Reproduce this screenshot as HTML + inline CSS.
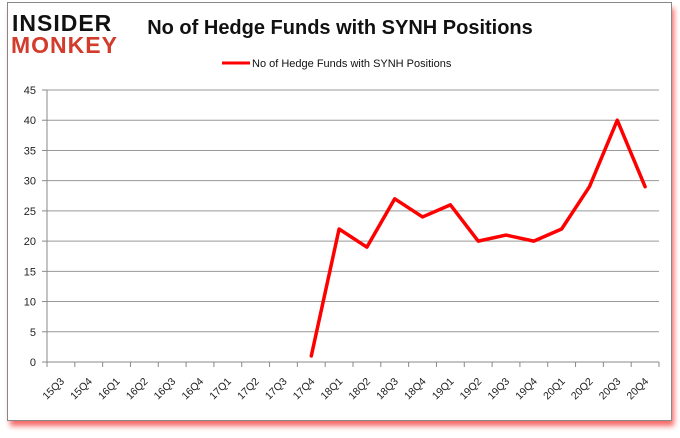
<!DOCTYPE html>
<html><head><meta charset="utf-8"><style>
body{margin:0;background:#fff;width:680px;height:433px;overflow:hidden;font-family:"Liberation Sans",sans-serif}
</style></head><body>
<svg width="680" height="433" xmlns="http://www.w3.org/2000/svg">
<defs><filter id="sh" x="-5%" y="-5%" width="110%" height="115%"><feGaussianBlur stdDeviation="3"/></filter></defs>
<rect x="10" y="8" width="664" height="418" fill="#e00" opacity="0.6" filter="url(#sh)"/>
<rect x="7.5" y="2.5" width="664" height="418" fill="#fff" stroke="#888"/>
<g font-family="'Liberation Sans',sans-serif" font-weight="bold">
<text x="12" y="31" font-size="23" fill="#111" letter-spacing="1">INSIDER</text>
<text x="11" y="53" font-size="23" fill="#d33b2c" letter-spacing="1">MONKEY</text>
</g>
<text x="340" y="34" text-anchor="middle" font-size="20" font-weight="bold" fill="#111">No of Hedge Funds with SYNH Positions</text>
<g>
<line x1="222" y1="63" x2="250" y2="63" stroke="#f00" stroke-width="3"/>
<text x="252" y="67" font-size="11" fill="#111">No of Hedge Funds with SYNH  Positions</text>
</g>
<g id="grid"></g><g id="axes"></g><g id="series"></g>
</svg>
<script>
const categories=["15Q3","15Q4","16Q1","16Q2","16Q3","16Q4","17Q1","17Q2","17Q3","17Q4","18Q1","18Q2","18Q3","18Q4","19Q1","19Q2","19Q3","19Q4","20Q1","20Q2","20Q3","20Q4"];
const values=[null,null,null,null,null,null,null,null,null,1,22,19,27,24,26,20,21,20,22,29,40,29];
const yTicks=[0,5,10,15,20,25,30,35,40,45];
const NS="http://www.w3.org/2000/svg";
const L=47,R=659,T=90,B=362,yMax=45;
const bw=(R-L)/categories.length;
const xs=i=>L+(i+0.5)*bw, ys=v=>B-(v/yMax)*(B-T);
function mk(tag,at,parent){const e=document.createElementNS(NS,tag);for(const k in at)e.setAttribute(k,at[k]);document.getElementById(parent).appendChild(e);return e;}
yTicks.forEach(t=>{
 const y=ys(t);
 const g=mk("line",{x1:L,x2:R,y1:y,y2:y,stroke:t===0?"#888":"#999","stroke-width":1},"grid");
 
 
 const tk=mk("line",{x1:L-5,x2:L,y1:y,y2:y,stroke:"#888"},"axes");
 
 
 const tx=mk("text",{x:L-11,y:y+4,"text-anchor":"end","font-size":11,fill:"#222"},"axes");
 tx.textContent=t;
 
 
});
const ya=mk("line",{x1:L,x2:L,y1:T,y2:B,stroke:"#888"},"axes");


categories.forEach((c,i)=>{
 const x=L+i*bw;
 const tk=mk("line",{x1:x,x2:x,y1:B,y2:B+5,stroke:"#888"},"axes");
 
 
 const cx=xs(i)+4,cy=B+20;
 const tx=mk("text",{x:cx,y:cy,"text-anchor":"end","font-size":10.5,fill:"#222",transform:`rotate(-45 ${cx} ${cy})`},"axes");
 tx.textContent=c;
 
 
});
const last=mk("line",{x1:R,x2:R,y1:B,y2:B+5,stroke:"#888"},"axes");


let d="";
values.forEach((v,i)=>{if(v===null)return;d+=(d?"L":"M")+xs(i)+","+ys(v);});
const p=mk("path",{d:d,fill:"none",stroke:"#f00","stroke-width":3.5,"stroke-linejoin":"round","stroke-linecap":"round"},"series");


</script>
</body></html>
